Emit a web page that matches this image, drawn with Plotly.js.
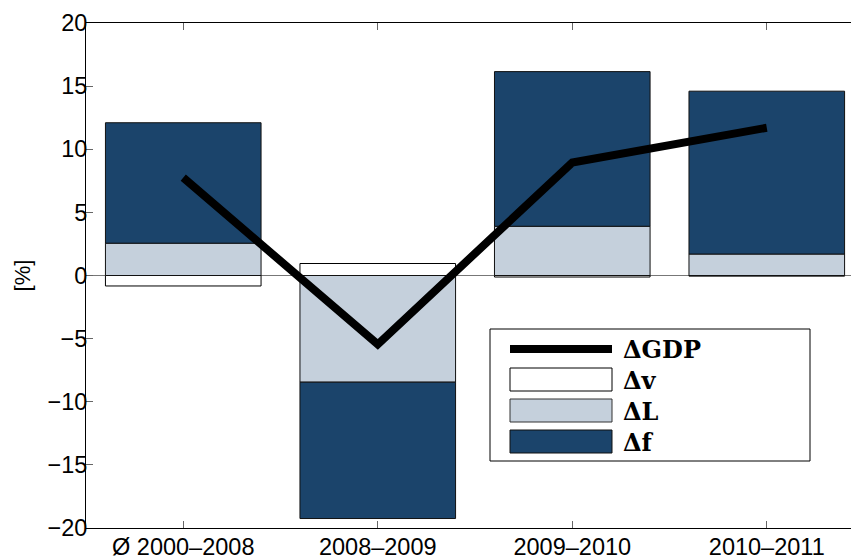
<!DOCTYPE html>
<html>
<head>
<meta charset="utf-8">
<script src="https://cdn.plot.ly/plotly-3.0.1.min.js"></script>
<style>html,body{margin:0;padding:0;background:#fff;}#chart{width:851px;height:556px;}</style>
</head>
<body>
<div id="chart"></div>
<script>
var categories = ["Ø 2000–2008", "2008–2009", "2009–2010", "2010–2011"];
var dV = [-0.83, 0.95, -0.12, -0.05];
var dL = [2.56, -8.45, 3.9, 1.7];
var dF = [9.54, -10.8, 12.25, 12.9];
var dGDP = [7.75, -5.45, 8.95, 11.7];
var legendLabels = ["ΔGDP", "Δv", "ΔL", "Δf"];

var colV = "#ffffff", colL = "#c5d0dc", colF = "#1b446b";

var traces = [
  {type: "bar", x: categories, y: dV, width: 0.8, name: legendLabels[1],
   marker: {color: colV, line: {color: "#000", width: 1}}, showlegend: false},
  {type: "bar", x: categories, y: dL, width: 0.8, name: legendLabels[2],
   marker: {color: colL, line: {color: "#111", width: 1}}, showlegend: false},
  {type: "bar", x: categories, y: dF, width: 0.8, name: legendLabels[3],
   marker: {color: colF, line: {color: "#111", width: 1}}, showlegend: false},
  {type: "scatter", mode: "lines", x: categories, y: dGDP, name: legendLabels[0],
   line: {color: "#000", width: 8}, showlegend: false}
];

// custom legend (plot-area paper coordinates)
var L = 86, R = 851, T = 23, B = 528;
function px(x){ return (x - L) / (R - L); }
function py(y){ return (B - y) / (B - T); }
var shapes = [
  {type: "rect", xref: "paper", yref: "paper", x0: px(490), x1: px(810), y0: py(461), y1: py(329),
   line: {color: "#000", width: 1}, fillcolor: "#fff", layer: "above"},
  {type: "line", xref: "paper", yref: "paper", x0: px(510), x1: px(612), y0: py(349), y1: py(349),
   line: {color: "#000", width: 8}, layer: "above"},
  {type: "rect", xref: "paper", yref: "paper", x0: px(510), x1: px(612), y0: py(391), y1: py(368),
   line: {color: "#000", width: 1}, fillcolor: colV, layer: "above"},
  {type: "rect", xref: "paper", yref: "paper", x0: px(510), x1: px(612), y0: py(422), y1: py(399),
   line: {color: "#333", width: 1}, fillcolor: colL, layer: "above"},
  {type: "rect", xref: "paper", yref: "paper", x0: px(510), x1: px(612), y0: py(453), y1: py(430),
   line: {color: "#111", width: 1}, fillcolor: colF, layer: "above"}
];
var legY = [349, 380, 411, 442];
var annotations = legendLabels.map(function(t, i){
  return {xref: "paper", yref: "paper", x: px(621), y: py(legY[i]), xanchor: "left", yanchor: "middle",
          text: "<b>" + t + "</b>", showarrow: false,
          font: {family: "DejaVu Serif", size: 24, color: "#000"}};
});

var layout = {
  width: 851, height: 556,
  margin: {l: 86, r: 0, t: 23, b: 28, pad: 0},
  paper_bgcolor: "#fff", plot_bgcolor: "#fff",
  barmode: "relative",
  showlegend: false,
  font: {family: "Liberation Sans, Arial, sans-serif", size: 23.5, color: "#000"},
  xaxis: {
    type: "category", range: [-0.5, 3.433],
    showline: true, linecolor: "#000", linewidth: 1, mirror: "ticks",
    ticks: "inside", ticklen: 7, tickcolor: "#666", tickwidth: 1,
    showgrid: false, zeroline: false, ticklabelstandoff: -2,
    tickfont: {size: 23.5, color: "#000"}, fixedrange: true
  },
  yaxis: {
    range: [-20, 20], dtick: 5, tick0: 0,
    showline: true, linecolor: "#000", linewidth: 1, mirror: false,
    ticks: "inside", ticklen: 7, tickcolor: "#666", tickwidth: 1,
    showgrid: false, zeroline: true, zerolinecolor: "#777", zerolinewidth: 1,
    tickfont: {size: 23.5, color: "#000"}, ticklabelstandoff: -7,
    title: {text: "[%]", font: {size: 22, color: "#000"}, standoff: 10}
  },
  shapes: shapes,
  annotations: annotations
};

Plotly.newPlot("chart", traces, layout, {staticPlot: true, displayModeBar: false});
</script>
</body>
</html>
